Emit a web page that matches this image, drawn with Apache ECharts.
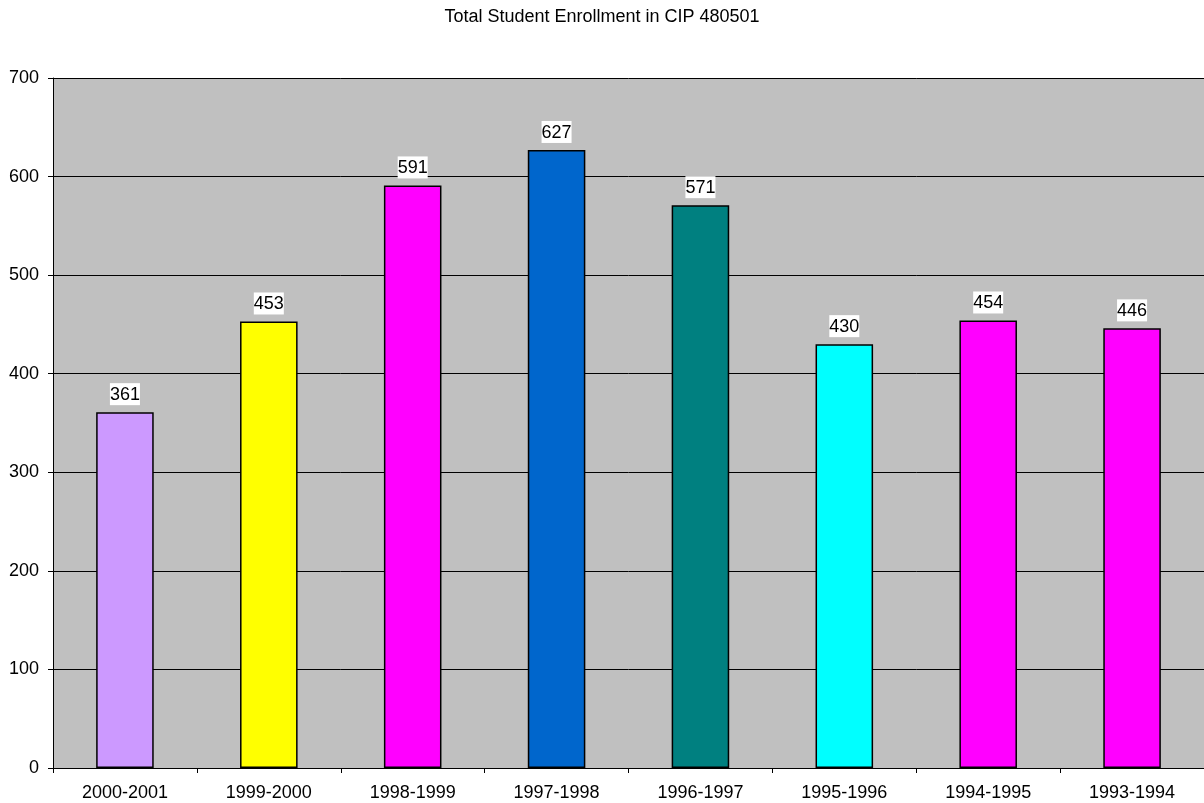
<!DOCTYPE html>
<html>
<head>
<meta charset="utf-8">
<script src="https://cdn.jsdelivr.net/npm/echarts@6/dist/echarts.min.js"></script>
<style>
  html, body { margin: 0; padding: 0; background: #ffffff; }
  #chart { width: 1204px; height: 803px; }
</style>
</head>
<body>
<div id="chart"></div>
<script>
// Academic years, most recent first
const categories = ['2000-2001', '1999-2000', '1998-1999', '1997-1998', '1996-1997', '1995-1996', '1994-1995', '1993-1994'];
// Total enrollment per year
const enrollment = [361, 453, 591, 627, 571, 430, 454, 446];
// Fill colour of each year's bar
const barColors = ['#CC99FF', '#FFFF00', '#FF00FF', '#0066CC', '#008080', '#00FFFF', '#FF00FF', '#FF00FF'];
const yTicks = { min: 0, max: 700, interval: 100 };

const chart = echarts.init(document.getElementById('chart'));
const font = 'Liberation Sans, Arial, sans-serif';

chart.setOption({
  backgroundColor: '#ffffff',
  animation: false,
  title: {
    text: 'Total Student Enrollment in CIP 480501',
    left: 'center',
    top: 3,
    textStyle: { fontFamily: font, fontSize: 18, fontWeight: 'normal', color: '#000' }
  },
  grid: {
    left: 53, top: 78, width: 1160, bottom: 35,
    show: true, backgroundColor: '#C0C0C0', borderWidth: 0
  },
  xAxis: {
    type: 'category',
    data: categories,
    axisLine: { show: true, lineStyle: { color: '#000', width: 1 } },
    axisTick: { show: true, alignWithLabel: false, length: 5, lineStyle: { color: '#000' } },
    axisLabel: { fontFamily: font, fontSize: 18, color: '#000', margin: 16, interval: 0 },
    splitLine: { show: false }
  },
  yAxis: {
    type: 'value',
    min: yTicks.min, max: yTicks.max, interval: yTicks.interval,
    axisLine: { show: true, lineStyle: { color: '#000', width: 1 } },
    axisTick: { show: true, length: 5, lineStyle: { color: '#000' } },
    axisLabel: { fontFamily: font, fontSize: 18, color: '#000', margin: 14 },
    splitLine: { show: true, lineStyle: { color: '#000', width: 1 } }
  },
  series: [{
    type: 'bar',
    data: enrollment.map((v, i) => ({ value: v, itemStyle: { color: barColors[i] } })),
    barWidth: '40%',
    itemStyle: { borderColor: '#000', borderWidth: 1.5 },
    label: {
      show: true,
      position: 'top',
      distance: 7,
      fontFamily: font,
      fontSize: 18,
      color: '#000',
      backgroundColor: '#ffffff',
      padding: [3, 0, 1, 0]
    }
  }]
});
</script>
</body>
</html>
